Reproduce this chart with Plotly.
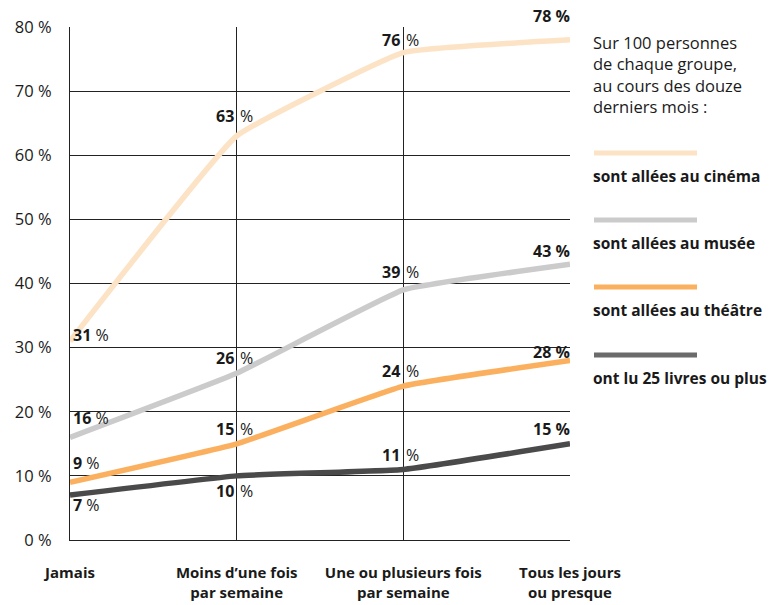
import plotly.graph_objects as go

categories = ["Jamais", "Moins d’une fois par semaine", "Une ou plusieurs fois par semaine", "Tous les jours ou presque"]
tick_labels = ["Jamais", "Moins d’une fois<br>par semaine", "Une ou plusieurs fois<br>par semaine", "Tous les jours<br>ou presque"]

series_names = ["sont allées au cinéma", "sont allées au musée", "sont allées au théâtre", "ont lu 25 livres ou plus"]
cinema = [31, 63, 76, 78]
musee = [16, 26, 39, 43]
theatre = [9, 15, 24, 28]
livres = [7, 10, 11, 15]
series_values = [cinema, musee, theatre, livres]
colors = ["#FDE3C6", "#CBCBCB", "#FBB060", "#4A4A4A"]
legend_colors = ["#FDE3C6", "#CBCBCB", "#FBB060", "#6B6B6B"]

y_ticks = [0, 10, 20, 30, 40, 50, 60, 70, 80]
y_tick_labels = ["0 %", "10 %", "20 %", "30 %", "40 %", "50 %", "60 %", "70 %", "80 %"]
legend_title = "Sur 100 personnes<br>de chaque groupe,<br>au cours des douze<br>derniers mois :"

# label vertical offsets in pixels (positive = up), per series per category
label_shift = [
    [6, 20, 13, 24],
    [19, 15, 18, 13],
    [19, 15, 15, 8],
    [-10, -15, 14, 15],
]

FONT = "Open Sans"
TXT = "#1a1a1a"
LBL = 16

fig = go.Figure()
for name, vals, col in zip(series_names, series_values, colors):
    fig.add_trace(go.Scatter(
        x=categories, y=vals, mode="lines", name=name,
        line=dict(color=col, width=5.5, shape="spline", smoothing=0.3),
        showlegend=False, hoverinfo="skip"))

annotations = []
for si, vals in enumerate(series_values):
    for ci, v in enumerate(vals):
        ys = label_shift[si][ci]
        if ci == 0:
            annotations.append(dict(x=categories[ci], y=v, xref="x", yref="y",
                                    text=f"<b>{v}</b> %", showarrow=False,
                                    xanchor="left", yanchor="middle", xshift=1, yshift=ys,
                                    font=dict(family=FONT, size=LBL, color=TXT)))
        elif ci == 3:
            annotations.append(dict(x=categories[ci], y=v, xref="x", yref="y",
                                    text=f"<b>{v} %</b>", showarrow=False,
                                    xanchor="right", yanchor="middle", xshift=2, yshift=ys,
                                    font=dict(family=FONT, size=LBL, color=TXT)))
        else:
            annotations.append(dict(x=categories[ci], y=v, xref="x", yref="y",
                                    text=f"<b>{v}</b>", showarrow=False,
                                    xanchor="right", yanchor="middle", xshift=-1, yshift=ys,
                                    font=dict(family=FONT, size=LBL, color=TXT)))
            annotations.append(dict(x=categories[ci], y=v, xref="x", yref="y",
                                    text="%", showarrow=False,
                                    xanchor="left", yanchor="middle", xshift=1, yshift=ys,
                                    font=dict(family=FONT, size=LBL, color=TXT)))

# legend (pixel -> paper conversion)
L, R, T, B = 70, 570, 27, 540
def px(x):
    return (x - L) / (R - L)
def py(y):
    return (B - y) / (B - T)

annotations.append(dict(x=px(591), y=py(29), xref="paper", yref="paper",
                        text=legend_title, showarrow=False, align="left",
                        xanchor="left", yanchor="top",
                        font=dict(family=FONT, size=16.5, color=TXT)))
shapes = []
leg_line_y = [153, 220, 287, 355]
for name, col, ly in zip(series_names, legend_colors, leg_line_y):
    shapes.append(dict(type="line", xref="paper", yref="paper",
                       x0=px(594), x1=px(697), y0=py(ly), y1=py(ly),
                       line=dict(color=col, width=5)))
    annotations.append(dict(x=px(591), y=py(ly + 23), xref="paper", yref="paper",
                            text=f"<b>{name}</b>", showarrow=False,
                            xanchor="left", yanchor="middle",
                            font=dict(family=FONT, size=15.5, color=TXT)))

fig.update_layout(
    width=773, height=605,
    margin=dict(l=L, r=773 - R, t=T, b=605 - B, autoexpand=False),
    paper_bgcolor="white", plot_bgcolor="white",
    annotations=annotations, shapes=shapes,
    font=dict(family=FONT, color=TXT),
)
fig.update_xaxes(
    type="category", range=[0, 3], automargin=False,
    tickvals=categories, ticktext=[f"<b>{t}</b>" for t in tick_labels],
    showgrid=True, gridcolor="#222", gridwidth=1,
    showline=True, linecolor="#222", linewidth=1.2,
    ticks="", tickfont=dict(family=FONT, size=15, color=TXT),
    ticklabelstandoff=19, zeroline=False,
)
fig.update_yaxes(
    range=[0, 80], tickvals=y_ticks, ticktext=y_tick_labels, automargin=False,
    showgrid=True, gridcolor="#222", gridwidth=1,
    showline=True, linecolor="#222", linewidth=1.2,
    ticks="", tickfont=dict(family=FONT, size=16.5, color=TXT),
    ticklabelstandoff=14, zeroline=False,
)

fig.write_html("out.html")
